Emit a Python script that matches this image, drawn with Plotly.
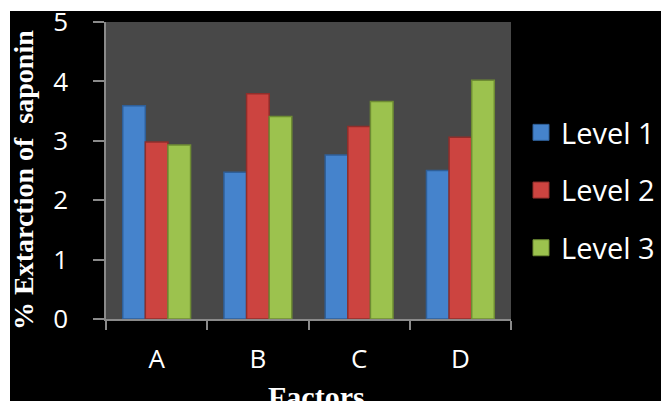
import plotly.graph_objects as go

categories = ["A", "B", "C", "D"]
level1 = [3.59, 2.47, 2.76, 2.50]
level2 = [2.98, 3.79, 3.24, 3.06]
level3 = [2.93, 3.41, 3.66, 4.02]
series_names = ["Level 1", "Level 2", "Level 3"]
y_ticks = [0, 1, 2, 3, 4, 5]

fill_colors = ["#4583cc", "#cc4440", "#9cc24e"]
edge_colors = ["#2f5f98", "#8f2e2b", "#6e8c33"]

W, H = 661, 401
ML, MR, MT, MB = 106, 150, 22, 82
PW, PH = W - ML - MR, H - MT - MB


def px_to_paper_x(px):
    return (px - ML) / PW


def px_to_paper_y(py):
    return (H - MB - py) / PH


fig = go.Figure()
for name, vals, fc, ec in zip(series_names, [level1, level2, level3], fill_colors, edge_colors):
    fig.add_trace(go.Bar(
        x=categories, y=vals, name=name, showlegend=False,
        marker=dict(color=fc, line=dict(color=ec, width=1.5)),
    ))
for name, fc, ec in zip(series_names, fill_colors, edge_colors):
    fig.add_trace(go.Scatter(
        x=[None], y=[None], name=name, mode="markers", legendgroup=name,
        marker=dict(symbol="square", size=20, color=fc, line=dict(color=ec, width=1)),
    ))

shapes = [
    # black figure area (image has white strip at top and left)
    dict(type="rect", xref="paper", yref="paper", layer="below",
         x0=px_to_paper_x(10), x1=px_to_paper_x(W + 20),
         y0=px_to_paper_y(H + 20), y1=px_to_paper_y(11),
         fillcolor="black", line=dict(width=0)),
    # plot area
    dict(type="rect", xref="paper", yref="paper", layer="below",
         x0=0, x1=1, y0=0, y1=1, fillcolor="#484848", line=dict(width=0)),
]

annotations = [
    dict(text="<b>% Extarction of  saponin</b>", textangle=-90, xref="paper", yref="paper",
         x=px_to_paper_x(23), y=px_to_paper_y(180), xanchor="center", yanchor="middle",
         showarrow=False, font=dict(family="Liberation Serif", size=28, color="white")),
    dict(text="<b>Factors</b>", xref="paper", yref="paper",
         x=px_to_paper_x(316), y=px_to_paper_y(378), xanchor="center", yanchor="top",
         showarrow=False, font=dict(family="Liberation Serif", size=30, color="white")),
]

fig.update_layout(
    width=W, height=H,
    margin=dict(l=ML, r=MR, t=MT, b=MB, autoexpand=False),
    paper_bgcolor="white",
    plot_bgcolor="rgba(0,0,0,0)",
    barmode="group", bargap=0.33, bargroupgap=0,
    shapes=shapes, annotations=annotations,
    font=dict(family="Open Sans", color="white"),
    legend=dict(x=px_to_paper_x(521), y=px_to_paper_y(107), xanchor="left", yanchor="top",
                font=dict(size=29, color="white"), bgcolor="rgba(0,0,0,0)",
                tracegroupgap=17, itemsizing="trace"),
    xaxis=dict(showgrid=False, showline=True, linecolor="#8a8a8a", linewidth=1.5, automargin=False,
               ticks="outside", tickson="boundaries", ticklen=9, tickcolor="#8a8a8a", tickwidth=1.5,
               tickfont=dict(size=26, color="white"), ticklabelstandoff=16),
    yaxis=dict(range=[0, 5], tickvals=y_ticks, showgrid=False, zeroline=False, showline=True,
               automargin=False,
               linecolor="#8a8a8a", linewidth=1.5, ticks="outside", ticklen=11,
               tickcolor="#8a8a8a", tickwidth=1.5,
               tickfont=dict(size=26, color="white"), ticklabelstandoff=20),
)

fig.write_html("out.html", config={"displayModeBar": False},
               post_script="document.body.style.margin='0px';document.body.style.overflow='hidden';")
